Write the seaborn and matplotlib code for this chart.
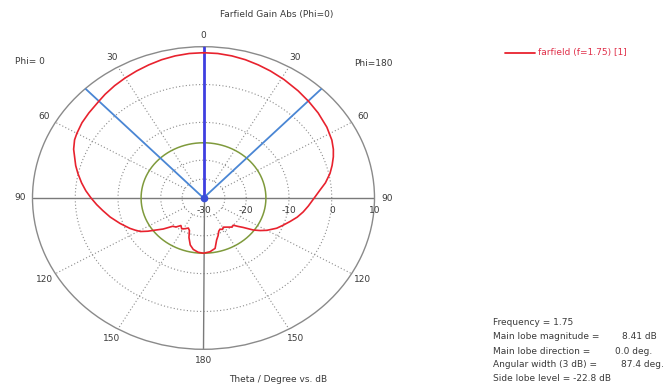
import numpy as np
import pandas as pd
import matplotlib
matplotlib.use("Agg")
import matplotlib.pyplot as plt
import matplotlib.transforms as mtransforms
import seaborn as sns

# Farfield gain cut, Phi = 0 half (drawn on the left), theta in degrees, gain in dB
theta_phi0 = [0, 5, 10, 15, 20, 25, 30, 35, 40, 43.7, 50, 55, 60, 63, 67, 70, 74, 77.5,
              82, 86, 90, 94, 98, 103, 109, 115, 118, 121, 124, 127, 131, 136, 140, 144,
              148, 152, 156, 159, 162, 166, 170, 175, 180]
gain_phi0 = [8.41, 8.35, 8.15, 7.85, 7.45, 7.05, 6.65, 6.25, 5.8, 5.41, 5.0, 4.7, 4.2, 3.85,
             3.0, 2.1, 1.1, 0.1, -1.2, -2.4, -3.7, -4.95, -6.2, -7.6, -9.35, -11.0, -11.9,
             -12.8, -14.3, -15.9, -17.5, -19.6, -20.0, -21.0, -20.4, -20.8, -21.3, -20.8,
             -19.0, -17.2, -16.2, -15.6, -15.4]

# Phi = 180 half (drawn on the right)
theta_phi180 = [0, 5, 10, 15, 20, 25, 31, 38, 44, 50, 57, 63, 67, 70.3, 74, 77.6, 82, 85.6,
                90, 95, 99, 103, 107, 111, 115, 120, 123, 126, 130, 133, 136, 139, 141, 145,
                149, 152, 155, 158, 161, 164.5, 168.5, 174, 180]
gain_phi180 = [8.41, 8.35, 8.15, 7.85, 7.45, 7.05, 6.55, 5.95, 5.45, 5.0, 4.4, 3.7, 3.0, 2.26,
               1.3, 0.3, -1.2, -2.67, -4.1, -5.4, -6.4, -7.5, -8.8, -10.0, -11.1, -12.9,
               -14.2, -15.6, -17.9, -19.0, -20.0, -19.8, -20.1, -20.6, -21.0, -20.6, -20.9,
               -20.5, -19.5, -18.5, -16.4, -15.7, -15.4]

main_lobe_dir = 0.0
main_lobe_mag = 8.41
beam_width = 87.4
back_lobe_level = -15.4
frequency = 1.75
side_lobe_level = -22.8

r_min, r_max = -30, 10
r_ticks = [-30, -20, -10, 0, 10]
dotted_rings = [-25, -20, -10, 0]
angle_ticks = [0, 30, 60, 90, 120, 150, 180]

# Assemble the closed cut: left half 0 -> 180, then right half 180 -> 0
ang_left = np.deg2rad(np.asarray(theta_phi0, dtype=float))
ang_right = np.deg2rad(360.0 - np.asarray(theta_phi180, dtype=float))[::-1]
df = pd.DataFrame({
    "angle": np.concatenate([ang_left, ang_right]),
    "gain": np.concatenate([gain_phi0, gain_phi180[::-1]]),
})

sns.set_style("white")
plt.rcParams["font.family"] = ["DejaVu Sans"]

W, H = 671, 385
fig = plt.figure(figsize=(W / 100, H / 100), dpi=100)
fig.patch.set_facecolor("white")

cx, cy, rx, ry = 203.5, 198.0, 171.0, 151.3
ax = fig.add_axes([(cx - rx) / W, (H - cy - ry) / H, 2 * rx / W, 2 * ry / H],
                  projection="polar")
ax.set_theta_zero_location("N")
ax.set_theta_direction(1)
ax.set_rlim(r_min, r_max)
ax.set_aspect("auto")
ax.grid(False)
ax.set_xticks([])
ax.set_yticks([])
ax.set_facecolor("white")
ax.spines["polar"].set_color("#8a8a8a")
ax.spines["polar"].set_linewidth(1.0)

grid_c = "#8c8c8c"
full = np.linspace(0, 2 * np.pi, 721)
for r in dotted_rings:
    ax.plot(full, np.full_like(full, r), ls=(0, (1, 2)), color=grid_c, lw=0.8, zorder=1)

for a in [30, 60, 120, 150, 210, 240, 300, 330]:
    t = np.deg2rad(a)
    ax.plot([t, t], [-25, r_max], ls=(0, (1, 2)), color=grid_c, lw=0.8, zorder=1)

for a in [90, 180, 270]:
    t = np.deg2rad(a)
    ax.plot([t, t], [r_min, r_max], color="#7a7a7a", lw=1.0, zorder=2)

# back lobe ring
ax.plot(full, np.full_like(full, back_lobe_level), color="#7f9a3c", lw=1.1, zorder=2)

# main lobe direction and 3 dB beam edges
half = beam_width / 2.0
for a in [half, -half]:
    t = np.deg2rad(main_lobe_dir + a)
    ax.plot([t, t], [r_min, r_max], color="#4a86d4", lw=1.3, zorder=3)
t0 = np.deg2rad(main_lobe_dir)
ax.plot([t0, t0], [r_min, r_max], color="#3f3fe0", lw=2.0, zorder=3)

sns.lineplot(data=df, x="angle", y="gain", sort=False, ax=ax, color="#e8222e",
             lw=1.2, zorder=4, estimator=None)
ax.plot([t0], [r_min], "o", color="#3a4fd8", ms=4.5, zorder=5)
ax.set_xlabel("")
ax.set_ylabel("")

txt_c = "#3a3a3a"
fs = 6.5
for a in angle_ticks:
    for sgn in ([1] if a in (0, 180) else [1, -1]):
        ax.text(np.deg2rad(sgn * a), 13.0, str(a), ha="center", va="center",
                fontsize=fs, color=txt_c, clip_on=False)

tr = mtransforms.offset_copy(ax.transData, fig=fig, x=0, y=-12, units="dots")
for r in r_ticks:
    ax.text(np.deg2rad(270), r, str(r), transform=tr, ha="center", va="center",
            fontsize=fs, color=txt_c, clip_on=False)

def ftext(x, y, s, **kw):
    fig.text(x / W, 1 - y / H, s, fontsize=kw.pop("fontsize", fs),
             color=kw.pop("color", txt_c), va=kw.pop("va", "center"), **kw)

ftext(277, 15, "Farfield Gain Abs (Phi=0)", ha="center")
ftext(15, 62, "Phi= 0", ha="left")
ftext(354, 63, "Phi=180", ha="left")
ftext(278, 380, "Theta / Degree vs. dB", ha="center")

# legend entry
fig.add_artist(plt.Line2D([505 / W, 535 / W], [1 - 53 / H, 1 - 53 / H],
                          color="#e8222e", lw=1.3))
ftext(538, 53, f"farfield (f={frequency:.2f}) [1]", ha="left", color="#e0304a")

# summary block
ys = [322.7, 336.7, 351.0, 364.3, 378.3]
ftext(493, ys[0], f"Frequency = {frequency:.2f}", ha="left")
ftext(493, ys[1], "Main lobe magnitude =", ha="left")
ftext(622, ys[1], f"{main_lobe_mag:.2f} dB", ha="left")
ftext(493, ys[2], "Main lobe direction =", ha="left")
ftext(615, ys[2], f"{main_lobe_dir:.1f} deg.", ha="left")
ftext(493, ys[3], "Angular width (3 dB) =", ha="left")
ftext(621, ys[3], f"{beam_width:.1f} deg.", ha="left")
ftext(493, ys[4], f"Side lobe level = {side_lobe_level:.1f} dB", ha="left")

fig.savefig("out.png", dpi=100, facecolor="white")
